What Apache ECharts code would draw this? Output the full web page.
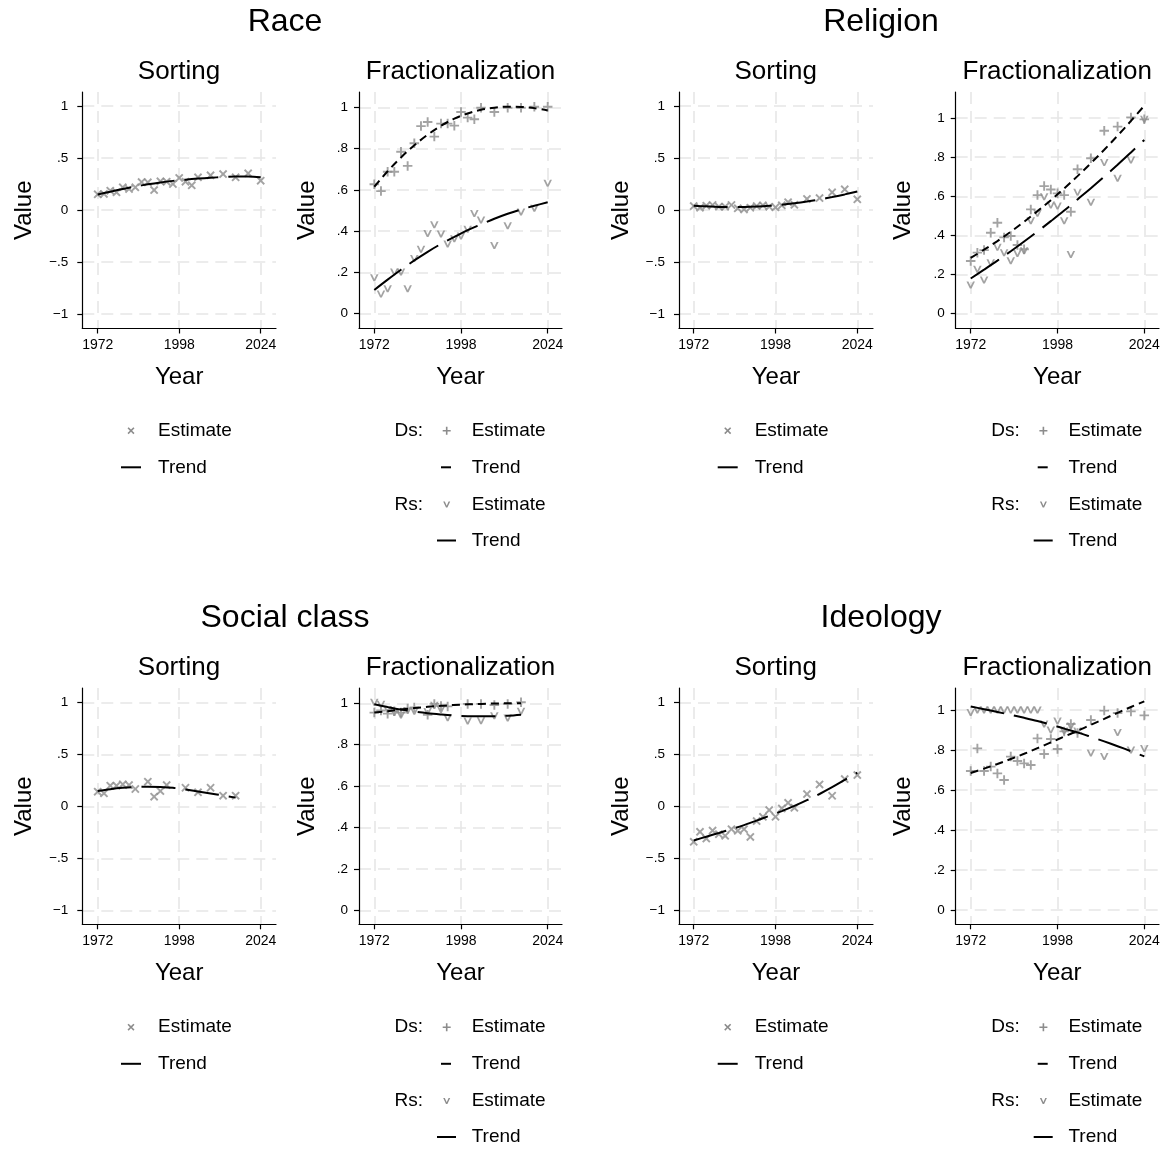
<!DOCTYPE html>
<html><head><meta charset="utf-8">
<script src="https://cdn.jsdelivr.net/npm/echarts@6/dist/echarts.min.js"></script>
<style>html,body{margin:0;padding:0;background:#fff}#c{width:1165px;height:1150px}</style>
</head><body><div id="c"></div>
<script>
// ---------- DATA ----------
const yearsA = [1972,1974,1976,1978,1980,1982,1984,1986,1988,1990,1992,1994,1996,1998,2000,2002,2004,2008,2012,2016,2020,2024];
const trendYears = [1972,1976,1980,1984,1988,1992,1996,2000,2004,2008,2012,2016,2020,2024];
const socYears = [1972,1974,1976,1978,1980,1982,1984,1988,1990,1992,1994,2000,2004,2008,2012,2016];
const socTrendYears = [1972,1976,1980,1984,1988,1992,1996,2000,2004,2008,2012,2016];
const xTicks = [1972,1998,2024];
const sortTicks = [-1,-0.5,0,0.5,1];
const fracTicks = [0,0.2,0.4,0.6,0.8,1];

// Race
const raceSort = [0.151,0.154,0.186,0.170,0.218,0.202,0.218,0.269,0.266,0.192,0.276,0.272,0.250,0.308,0.272,0.237,0.314,0.333,0.346,0.314,0.353,0.282];
const raceSortTrend = [0.150,0.176,0.202,0.226,0.247,0.265,0.280,0.292,0.302,0.310,0.317,0.322,0.322,0.314];
const raceDs = [0.627,0.594,0.688,0.688,0.785,0.716,0.826,0.909,0.929,0.858,0.921,0.921,0.911,0.977,0.950,0.942,0.998,0.977,0.998,0.998,1.003,1.003];
const raceRs = [0.174,0.095,0.121,0.202,0.202,0.121,0.268,0.312,0.389,0.431,0.386,0.338,0.363,0.376,0.409,0.486,0.454,0.331,0.426,0.493,0.511,0.632];
const raceDsTrend = [0.615,0.690,0.757,0.816,0.867,0.910,0.945,0.970,0.988,0.998,1.003,1.002,0.996,0.985];
const raceRsTrend = [0.115,0.165,0.213,0.258,0.300,0.338,0.372,0.405,0.433,0.460,0.484,0.505,0.523,0.540];

// Religion
const relSort = [0.038,0.022,0.042,0.048,0.032,0.032,0.048,0.016,0.006,0.022,0.038,0.045,0.032,0.026,0.045,0.075,0.050,0.106,0.115,0.170,0.199,0.103];
const relSortTrend = [0.040,0.035,0.030,0.028,0.029,0.033,0.040,0.050,0.064,0.081,0.101,0.124,0.150,0.178];
const relDs = [0.269,0.312,0.325,0.414,0.465,0.390,0.397,0.351,0.329,0.533,0.606,0.652,0.635,0.615,0.606,0.521,0.738,0.794,0.935,0.956,1.003,0.993];
const relRs = [0.147,0.227,0.172,0.260,0.339,0.312,0.271,0.308,0.322,0.475,0.513,0.598,0.555,0.550,0.475,0.303,0.620,0.570,0.772,0.692,0.785,0.993];
const relDsTrend = [0.285,0.327,0.371,0.419,0.470,0.524,0.580,0.640,0.703,0.769,0.838,0.910,0.985,1.063];
const relRsTrend = [0.180,0.225,0.271,0.319,0.369,0.420,0.473,0.527,0.584,0.641,0.700,0.761,0.824,0.888];

// Social class
const socSort = [0.141,0.125,0.199,0.199,0.212,0.205,0.167,0.237,0.093,0.147,0.205,0.179,0.135,0.179,0.103,0.103];
const socSortTrend = [0.147,0.165,0.178,0.186,0.189,0.186,0.178,0.162,0.143,0.124,0.104,0.084];
const socDs = [0.955,0.965,0.950,0.962,0.955,0.975,0.980,0.945,0.997,0.987,0.985,0.997,0.997,0.992,0.997,1.005];
const socRs = [1.005,0.995,0.970,0.955,0.944,0.965,0.962,0.960,0.990,0.970,0.930,0.915,0.916,0.940,0.929,0.962];
const socDsTrend = [0.955,0.962,0.970,0.977,0.983,0.988,0.992,0.995,0.997,0.999,1.000,1.000];
const socRsTrend = [0.995,0.982,0.970,0.960,0.952,0.946,0.941,0.938,0.937,0.937,0.940,0.945];

// Ideology
const ideoSort = [-0.341,-0.244,-0.309,-0.232,-0.267,-0.283,-0.219,-0.235,-0.219,-0.293,-0.141,-0.100,-0.035,-0.100,-0.019,0.035,-0.013,0.119,0.212,0.103,0.264,0.302];
const ideoSortTrend = [-0.328,-0.291,-0.255,-0.218,-0.180,-0.137,-0.091,-0.045,0.005,0.060,0.120,0.185,0.255,0.325];
const ideoDs = [0.695,0.808,0.695,0.717,0.683,0.650,0.767,0.745,0.733,0.725,0.858,0.780,0.855,0.805,0.893,0.930,0.885,0.950,0.997,0.985,0.993,0.973];
const ideoRs = [0.988,1.000,1.000,1.000,1.000,1.000,1.000,1.000,1.000,1.000,1.000,0.930,0.900,0.945,0.895,0.920,0.895,0.785,0.768,0.888,0.800,0.807];
const ideoDsTrend = [0.685,0.707,0.730,0.755,0.781,0.809,0.838,0.867,0.896,0.926,0.956,0.986,1.015,1.043];
const ideoRsTrend = [1.018,1.004,0.990,0.976,0.961,0.945,0.927,0.907,0.888,0.866,0.843,0.819,0.794,0.768];

// ---------- STYLE / LAYOUT ----------
const FONT = '"Liberation Sans", Arial, Helvetica, sans-serif';
const GRAY = '#8c8c8c';
const X_PTS = [[1.6,0],[5,3.4],[8.4,0],[10,1.6],[6.6,5],[10,8.4],[8.4,10],[5,6.6],[1.6,10],[0,8.4],[3.4,5],[0,1.6]];
const PLUS_PTS = [[4,0],[6,0],[6,4],[10,4],[10,6],[6,6],[6,10],[4,10],[4,6],[0,6],[0,4],[4,4]];
const V_PTS = [[0,0],[2.3,0],[5,6.2],[7.7,0],[10,0],[6,9],[4,9]];
function toPath(pts){ return 'path://M' + pts.map(p => p[0]+','+p[1]).join(' L') + ' Z'; }
const SOLID_DASH = [34, 10];
const DS_DASH = [8, 5];

const panels = [
  {kind:'sort', years:yearsA, est:raceSort, tYears:trendYears, trend:raceSortTrend,
   L:{left:82.3,right:276,x0:97.7,x1:260.7,top:92,bottom:328.5,ya:106,va:1,yb:314,vb:-1}},
  {kind:'frac', years:yearsA, ds:raceDs, rs:raceRs, tYears:trendYears, dsT:raceDsTrend, rsT:raceRsTrend,
   L:{left:359,right:562,x0:374.3,x1:547.7,top:92,bottom:328.5,ya:107.3,va:1,yb:313.7,vb:0}},
  {kind:'sort', years:yearsA, est:relSort, tYears:trendYears, trend:relSortTrend,
   L:{left:679,right:873,x0:693.7,x1:857.3,top:92,bottom:328.5,ya:106,va:1,yb:314,vb:-1}},
  {kind:'frac', years:yearsA, ds:relDs, rs:relRs, tYears:trendYears, dsT:relDsTrend, rsT:relRsTrend,
   L:{left:955.7,right:1159,x0:970.7,x1:1144.3,top:92,bottom:328.5,ya:118,va:1,yb:313.7,vb:0}},
  {kind:'sort', years:socYears, est:socSort, tYears:socTrendYears, trend:socSortTrend,
   L:{left:82.3,right:276,x0:97.7,x1:260.7,top:688,bottom:924.3,ya:702.4,va:1,yb:910.3,vb:-1}},
  {kind:'frac', years:socYears, ds:socDs, rs:socRs, tYears:socTrendYears, dsT:socDsTrend, rsT:socRsTrend,
   L:{left:359,right:562,x0:374.3,x1:547.7,top:688,bottom:924.3,ya:703.3,va:1,yb:910.3,vb:0}},
  {kind:'sort', years:yearsA, est:ideoSort, tYears:trendYears, trend:ideoSortTrend,
   L:{left:679,right:873,x0:693.7,x1:857.3,top:688,bottom:924.3,ya:702.6,va:1,yb:910.3,vb:-1}},
  {kind:'frac', years:yearsA, ds:ideoDs, rs:ideoRs, tYears:trendYears, dsT:ideoDsTrend, rsT:ideoRsTrend,
   L:{left:955.7,right:1159,x0:970.7,x1:1144.3,top:688,bottom:924.3,ya:710,va:1,yb:910,vb:0}}
];

function pairs(xs, ys){ return xs.map((x,i)=>[x, ys[i]]); }
function fmtY(v){
  if (Math.abs(v) < 1e-9) return '0';
  let s = String(Math.round(Math.abs(v)*100)/100);
  if (s.startsWith('0.')) s = s.slice(1);
  return (v < 0 ? '\u2212' : '') + s;
}
function fmtX(v){ return String(Math.round(v)); }

const grids = [], xAxes = [], yAxes = [], series = [];
panels.forEach((p, i) => {
  const L = p.L;
  const ppx = (L.x1 - L.x0) / (xTicks[2] - xTicks[0]);
  const xmin = xTicks[0] - (L.x0 - L.left) / ppx;
  const xmax = xTicks[2] + (L.right - L.x1) / ppx;
  const ppy = (L.yb - L.ya) / (L.va - L.vb);
  const ymax = L.va + (L.ya - L.top) / ppy;
  const ymin = L.vb - (L.bottom - L.yb) / ppy;
  const yt = p.kind === 'sort' ? sortTicks : fracTicks;
  grids.push({left:L.left, top:L.top, width:L.right-L.left, height:L.bottom-L.top, show:false});
  const split = {show:true, lineStyle:{color:'#e6e6e6', width:1.6, type:[12,7]}};
  xAxes.push({gridIndex:i, type:'value', min:xmin, max:xmax,
    axisLine:{show:true, onZero:false, lineStyle:{color:'#000', width:1.2}},
    axisTick:{show:true, customValues:xTicks, length:5, lineStyle:{color:'#000', width:1.2}},
    axisLabel:{show:true, customValues:xTicks, fontSize:14, color:'#000', margin:10, fontFamily:FONT, formatter:fmtX},
    splitLine:split,
    name:'Year', nameLocation:'middle', nameGap:37,
    nameTextStyle:{fontSize:24, color:'#000', fontFamily:FONT}
  });
  yAxes.push({gridIndex:i, type:'value', min:ymin, max:ymax,
    axisLine:{show:true, onZero:false, lineStyle:{color:'#000', width:1.2}},
    axisTick:{show:true, customValues:yt, length:5, lineStyle:{color:'#000', width:1.2}},
    axisLabel:{show:true, customValues:yt, fontSize:13.5, color:'#000', margin:p.kind==='sort'?14:11, fontFamily:FONT, formatter:fmtY},
    splitLine:split,
    name:'Value', nameLocation:'middle', nameGap:p.kind==='sort'?46:40, nameRotate:90,
    nameTextStyle:{fontSize:24, color:'#000', fontFamily:FONT}
  });
  const sc = (data, pts, size) => ({type:'scatter', xAxisIndex:i, yAxisIndex:i, data,
    symbol:toPath(pts), symbolSize:size, itemStyle:{color:GRAY}, z:2, silent:true, animation:false});
  const ln = (data, dash) => ({type:'line', xAxisIndex:i, yAxisIndex:i, data, symbol:'none', smooth:0.35,
    lineStyle:{color:'#000', width:2, type:dash}, z:3, silent:true, animation:false});
  if (p.kind === 'sort') {
    series.push(sc(pairs(p.years, p.est), X_PTS, [8.5,8.5]));
    series.push(ln(pairs(p.tYears, p.trend), SOLID_DASH));
  } else {
    series.push(sc(pairs(p.years, p.ds), PLUS_PTS, [9.5,9.5]));
    series.push(sc(pairs(p.years, p.rs), V_PTS, [8.5,7]));
    series.push(ln(pairs(p.tYears, p.dsT), DS_DASH));
    series.push(ln(pairs(p.tYears, p.rsT), SOLID_DASH));
  }
});

// ---------- TITLES & LEGENDS (graphic) ----------
const G = [];
function txt(s, x, y, size, align){
  G.push({type:'text', x, y, silent:true, style:{text:s, font:size+'px '+FONT, fill:'#000', align:align||'center', verticalAlign:'middle'}});
}
function mark(pts, cx, cy, w, h){
  const maxY = Math.max(...pts.map(q=>q[1]));
  const poly = pts.map(p => [cx - w/2 + p[0]*w/10, cy - h/2 + p[1]*h/maxY]);
  G.push({type:'polygon', silent:true, shape:{points:poly}, style:{fill:GRAY}});
}
function hline(x1, x2, y){
  G.push({type:'line', silent:true, shape:{x1, y1:y, x2, y2:y}, style:{stroke:'#000', lineWidth:2}});
}
const groupTitles = [['Race',285,22],['Religion',881,22],['Social class',285,618],['Ideology',881,618]];
groupTitles.forEach(g => txt(g[0], g[1], g[2], 32));
const DX = 596.7, DY = 596.5;
for (let r = 0; r < 2; r++) for (let c = 0; c < 2; c++) {
  const ox = c*DX, oy = r*DY;
  txt('Sorting', 179+ox, 71.5+oy, 26);
  txt('Fractionalization', 460.5+ox, 71.5+oy, 26);
  // sorting legend
  mark(X_PTS, 131+ox, 430.7+oy, 7, 7);
  txt('Estimate', 158+ox, 430.7+oy, 19, 'left');
  hline(121+ox, 141+ox, 467.3+oy);
  txt('Trend', 158+ox, 467.3+oy, 19, 'left');
  // fractionalization legend
  txt('Ds:', 423+ox, 430.7+oy, 19, 'right');
  mark(PLUS_PTS, 446.7+ox, 430.7+oy, 8, 8);
  txt('Estimate', 471.7+ox, 430.7+oy, 19, 'left');
  hline(441+ox, 451+ox, 467.3+oy);
  txt('Trend', 471.7+ox, 467.3+oy, 19, 'left');
  txt('Rs:', 423+ox, 504.5+oy, 19, 'right');
  mark(V_PTS, 446.7+ox, 504.5+oy, 7, 6);
  txt('Estimate', 471.7+ox, 504.5+oy, 19, 'left');
  hline(437+ox, 456+ox, 540.5+oy);
  txt('Trend', 471.7+ox, 540.5+oy, 19, 'left');
}

const chart = echarts.init(document.getElementById('c'), null, {renderer:'canvas'});
chart.setOption({
  backgroundColor:'#fff',
  animation:false,
  textStyle:{fontFamily:FONT},
  grid:grids, xAxis:xAxes, yAxis:yAxes, series, graphic:G
});
</script></body></html>
